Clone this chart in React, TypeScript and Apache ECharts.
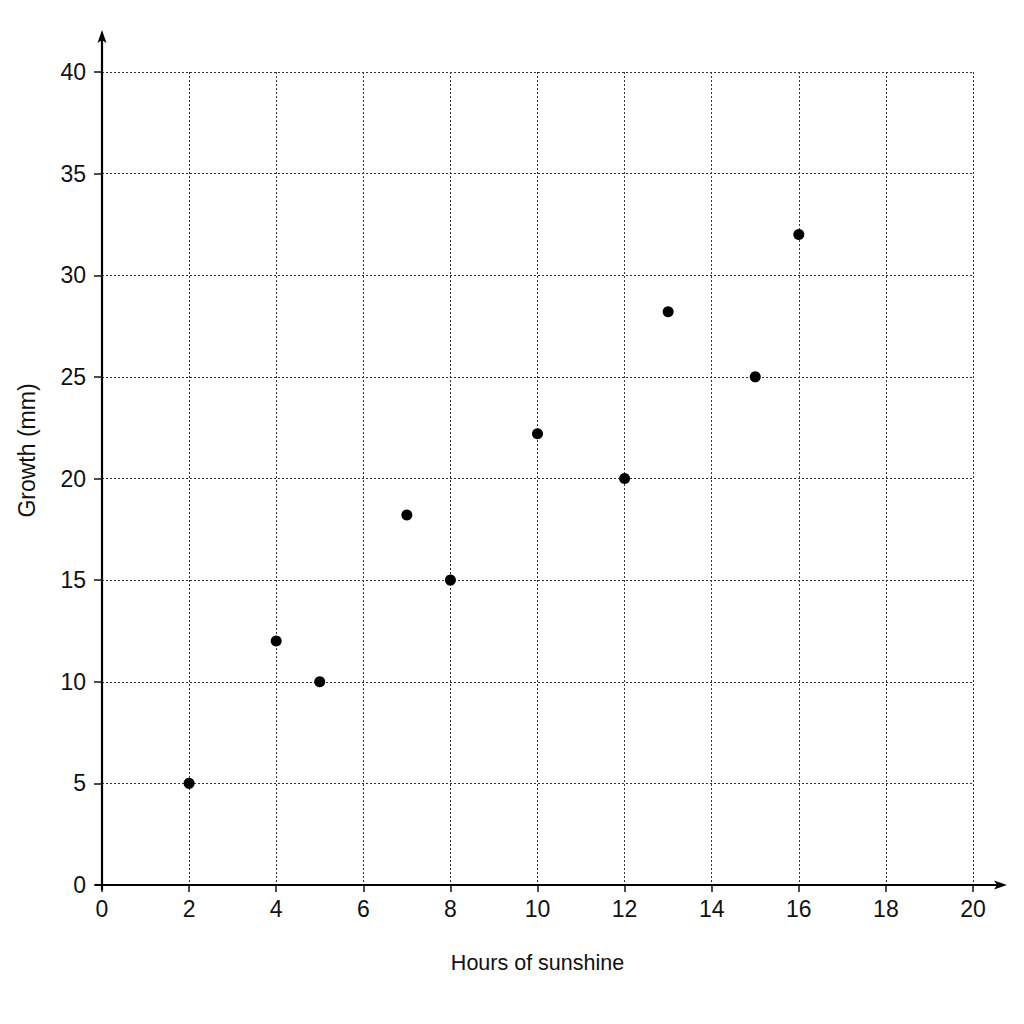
import React, { useEffect, useRef } from "react";
import * as echarts from "echarts";

const hours = [2, 4, 5, 7, 8, 10, 12, 13, 15, 16];
const growth = [5, 12, 10, 18.2, 15, 22.2, 20, 28.2, 25, 32];
const xRange = [0, 20];
const yRange = [0, 40];
const xName = "Hours of sunshine";
const yName = "Growth (mm)";

export default function App() {
  const ref = useRef<HTMLDivElement>(null);
  useEffect(() => {
    const chart = echarts.init(ref.current!, null, { renderer: "svg" });
    const font = "'Liberation Sans', Arial, sans-serif";
    const splitLine = {
      show: true,
      lineStyle: { color: "#333", width: 1, type: [2, 2] as any },
    };
    chart.setOption({
      animation: false,
      backgroundColor: "#fff",
      grid: {
        left: 102,
        right: 51,
        top: 72,
        bottom: 139,
        containLabel: false,
        outerBoundsMode: "none",
      },
      xAxis: {
        type: "value",
        min: xRange[0],
        max: xRange[1],
        interval: 2,
        name: xName,
        nameLocation: "middle",
        nameGap: 67,
        nameTextStyle: { fontFamily: font, fontSize: 21.5, color: "#111" },
        axisLine: { show: false },
        axisTick: { show: true, length: 7, lineStyle: { color: "#111", width: 1.5 } },
        axisLabel: { fontFamily: font, fontSize: 23, color: "#111", margin: 12 },
        splitLine,
      },
      yAxis: {
        type: "value",
        min: yRange[0],
        max: yRange[1],
        interval: 5,
        name: yName,
        nameLocation: "middle",
        nameGap: 64,
        nameTextStyle: { fontFamily: font, fontSize: 23, color: "#111", padding: [0, 0, 0, 56] },
        axisLine: { show: false },
        axisTick: { show: true, length: 8, lineStyle: { color: "#111", width: 1.5 } },
        axisLabel: { fontFamily: font, fontSize: 23, color: "#111", margin: 16 },
        splitLine,
      },
      series: [
        {
          type: "scatter",
          data: hours.map((h, i) => [h, growth[i]]),
          symbol: "circle",
          symbolSize: 11,
          itemStyle: { color: "#000", opacity: 1 },
          z: 5,
        },
      ],
    });

    const o = chart.convertToPixel({ gridIndex: 0 }, [xRange[0], yRange[0]]) as number[];
    const t = chart.convertToPixel({ gridIndex: 0 }, [xRange[0], yRange[1]]) as number[];
    const r = chart.convertToPixel({ gridIndex: 0 }, [xRange[1], yRange[0]]) as number[];
    const yTip = t[1] - 42;
    const xTip = r[0] + 34;
    const stroke = { stroke: "#000", lineWidth: 2.2 };
    chart.setOption({
      graphic: [
        { type: "line", shape: { x1: o[0], y1: o[1] + 5, x2: o[0], y2: yTip + 8 }, style: stroke, z: 10 },
        { type: "line", shape: { x1: o[0] - 7, y1: o[1], x2: xTip - 8, y2: o[1] }, style: stroke, z: 10 },
        {
          type: "polygon",
          shape: { points: [[o[0], yTip], [o[0] - 4.5, yTip + 13], [o[0], yTip + 10], [o[0] + 4.5, yTip + 13]] },
          style: { fill: "#000" },
          z: 10,
        },
        {
          type: "polygon",
          shape: { points: [[xTip, o[1]], [xTip - 13, o[1] - 4.5], [xTip - 10, o[1]], [xTip - 13, o[1] + 4.5]] },
          style: { fill: "#000" },
          z: 10,
        },
      ],
    });
    return () => chart.dispose();
  }, []);
  return (
    <div
      ref={ref}
      style={{ position: "absolute", left: 0, top: 0, width: 1024, height: 1024, background: "#fff" }}
    />
  );
}
